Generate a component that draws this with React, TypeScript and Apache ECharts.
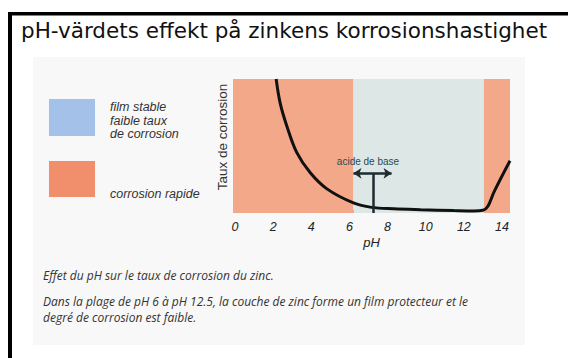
import React, { useEffect, useRef } from "react";
import * as echarts from "echarts";

const titleText = "pH-värdets effekt på zinkens korrosionshastighet";
const phValues = [2.15, 2.35, 2.68, 3.18, 3.85, 4.68, 6.0, 6.9, 8.0, 9.35, 11.0, 12.0, 12.45, 12.7, 13.0, 13.8];
const corrosionRates = [100, 82, 65, 45, 30, 18, 7.5, 4.2, 3.2, 2.5, 1.8, 1.5, 2.0, 5.0, 15.6, 39];
const phTickLabels = [0, 2, 4, 6, 8, 10, 12, 14];
const phTickMarks = [2, 4, 6, 8, 10, 12];
const bandStarts = [0, 6, 12.5];
const bandEnds = [6, 12.5, 13.8];
const bandKinds = ["rapid", "stable", "rapid"];
const arrowRange = [6, 7.9];
const arrowLevel = 29.6;
const phMarker = 7;
const legendLabels = [["film stable", "faible taux", "de corrosion"], ["corrosion rapide"]];
const captionLines = [
  "Effet du pH sur le taux de corrosion du zinc.",
  "Dans la plage de pH 6 à pH 12.5, la couche de zinc forme un film protecteur et le",
  "degré de corrosion est faible.",
];

const BAND_COLORS: Record<string, string> = { rapid: "#f3a88a", stable: "#dde7e5" };

export default function App() {
  const ref = useRef<HTMLDivElement>(null);
  useEffect(() => {
    if (!ref.current) return;
    const chart = echarts.init(ref.current, null, { renderer: "svg" });
    const data = phValues.map((x, i) => [x, corrosionRates[i]]);
    const bands = bandStarts.map((s, i) => [
      { xAxis: s, itemStyle: { color: BAND_COLORS[bandKinds[i]] } },
      { xAxis: bandEnds[i] },
    ]);
    const italicCaption = {
      fontFamily: "Open Sans",
      fontStyle: "italic",
      fontSize: 12,
      fill: "#333",
    };
    chart.setOption({
      animation: false,
      backgroundColor: "#ffffff",
      grid: { left: 233, right: 58, top: 79, bottom: 145 },
      xAxis: [
        {
          type: "value",
          min: 0,
          max: 13.8,
          axisLine: { show: false },
          splitLine: { show: false },
          axisLabel: { show: false },
          axisTick: {
            show: true,
            inside: true,
            length: 3,
            customValues: phTickMarks,
            lineStyle: { color: "#666", width: 1 },
          },
        },
        {
          type: "value",
          position: "bottom",
          min: -0.105,
          max: 14.42,
          axisLine: { show: false },
          splitLine: { show: false },
          axisTick: { show: false },
          axisLabel: {
            customValues: phTickLabels,
            fontFamily: "Liberation Sans",
            fontStyle: "italic",
            fontSize: 12.5,
            color: "#222",
            margin: 7,
          },
          name: "pH",
          nameLocation: "middle",
          nameGap: 23,
          nameTextStyle: {
            fontFamily: "Liberation Sans",
            fontStyle: "italic",
            fontSize: 13,
            color: "#222",
          },
        },
      ],
      yAxis: { type: "value", min: 0, max: 100, show: false },
      series: [
        {
          type: "line",
          xAxisIndex: 0,
          data,
          smooth: 0.35,
          showSymbol: false,
          lineStyle: { color: "#111", width: 3 },
          silent: true,
          markArea: { silent: true, data: bands },
          markLine: {
            silent: true,
            lineStyle: { color: "#1e2c30", width: 2.5, type: "solid" },
            label: { show: false },
            data: [
              [
                { coord: [arrowRange[0], arrowLevel], symbol: "arrow", symbolSize: 8 },
                { coord: [arrowRange[1], arrowLevel], symbol: "arrow", symbolSize: 8 },
              ],
              [
                { coord: [phMarker, arrowLevel], symbol: "none" },
                { coord: [phMarker, 0], symbol: "none" },
              ],
            ],
          },
        },
      ],
      graphic: [
        { type: "rect", shape: { x: 33, y: 57, width: 492, height: 288 }, style: { fill: "#f8f8f8" }, z: -10, silent: true },
        { type: "rect", shape: { x: 8, y: 12, width: 560, height: 3.5 }, style: { fill: "#000" }, z: 10 },
        { type: "rect", shape: { x: 8, y: 12, width: 4, height: 346 }, style: { fill: "#000" }, z: 10 },
        {
          type: "text",
          x: 21,
          y: 30,
          style: { text: titleText, fontFamily: "DejaVu Sans", fontSize: 21.5, fill: "#111", verticalAlign: "middle" },
        },
        { type: "rect", shape: { x: 49, y: 99, width: 46, height: 37 }, style: { fill: "#a3c1e9" } },
        { type: "rect", shape: { x: 49, y: 161, width: 46, height: 36 }, style: { fill: "#f18f6d" } },
        ...legendLabels[0].map((t, i) => ({
          type: "text",
          x: 110,
          y: 107 + i * 13.5,
          style: { text: t, fontFamily: "Liberation Sans", fontStyle: "italic", fontSize: 12.5, fill: "#333", verticalAlign: "middle" },
        })),
        {
          type: "text",
          x: 110,
          y: 194,
          style: { text: legendLabels[1][0], fontFamily: "Liberation Sans", fontStyle: "italic", fontSize: 12.5, fill: "#333", verticalAlign: "middle" },
        },
        {
          type: "text",
          x: 222,
          y: 137,
          rotation: Math.PI / 2,
          style: { text: "Taux de corrosion", fontFamily: "Liberation Sans", fontSize: 13.5, fill: "#333", align: "center", verticalAlign: "middle" },
        },
        {
          type: "text",
          x: 368,
          y: 161,
          z: 20,
          style: { text: "acide de base", fontFamily: "Liberation Sans", fontSize: 10, fill: "#2c4a50", align: "center", verticalAlign: "middle" },
        },
        ...captionLines.map((t, i) => ({
          type: "text",
          x: 43,
          y: [275, 301, 317][i],
          style: { ...italicCaption, text: t, verticalAlign: "middle" },
        })),
      ],
    });
    return () => chart.dispose();
  }, []);
  return (
    <div
      ref={ref}
      style={{ position: "absolute", left: 0, top: 0, width: 568, height: 358 }}
    />
  );
}
